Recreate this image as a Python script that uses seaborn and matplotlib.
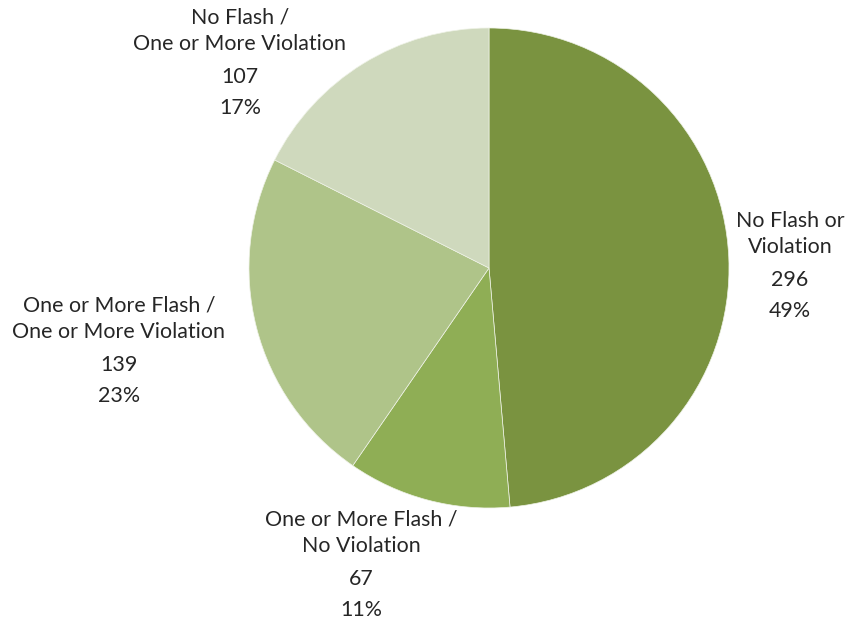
import matplotlib
matplotlib.use("Agg")
import matplotlib.pyplot as plt
import seaborn as sns

categories = ["No Flash or\nViolation", "One or More Flash /\nNo Violation",
              "One or More Flash /\nOne or More Violation", "No Flash /\nOne or More Violation"]
counts = [296, 67, 139, 107]
percents = ["49%", "11%", "23%", "17%"]
colors = ["#7a9340", "#8fae55", "#afc489", "#cfd9bd"]

# label anchor (pixel centre of the text block) for each slice
label_px = [(790, 266), (361, 565), (119, 351), (240, 63)]

sns.set_theme(style="white")
plt.rcParams["font.family"] = ["Lato", "DejaVu Sans"]

W, H = 862, 622
cx, cy, r = 489, 268, 240
fig = plt.figure(figsize=(W / 100, H / 100), dpi=100)
ax = fig.add_axes([(cx - r) / W, (H - cy - r) / H, 2 * r / W, 2 * r / H])
ax.pie(counts, colors=colors, startangle=90, counterclock=False, radius=1,
       wedgeprops=dict(edgecolor="#eef2e6", linewidth=0.5))
ax.set_xlim(-1, 1)
ax.set_ylim(-1, 1)
ax.set_aspect("equal")
ax.axis("off")

for name, n, pct, (px, py) in zip(categories, counts, percents, label_px):
    lines = name.split("\n")
    # offsets in pixels relative to block centre
    offs = [-45, -19, 14, 45]
    texts = lines + [str(n), pct]
    for t, o in zip(texts, offs):
        fig.text(px / W, 1 - (py + o) / H, t, ha="center", va="center",
                 fontsize=15.4, color="#262626")

fig.savefig("out.png", dpi=100)
